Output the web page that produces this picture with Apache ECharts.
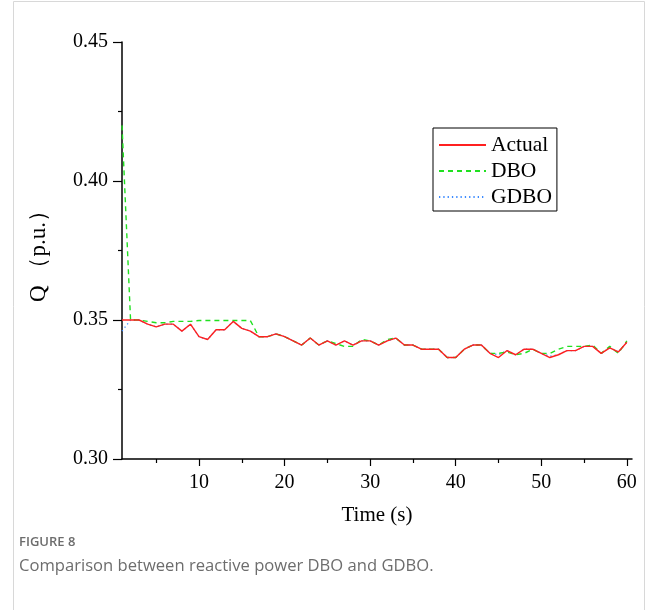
<!DOCTYPE html>
<html><head><meta charset="utf-8">
<script src="https://cdn.jsdelivr.net/npm/echarts@6/dist/echarts.min.js"></script>
<style>html,body{margin:0;padding:0;background:#fff}#c{width:658px;height:610px}</style>
</head><body><div id="c"></div>
<script>
const time = [1,2,3,4,5,6,7,8,9,10,11,12,13,14,15,16,17,18,19,20,21,22,23,24,25,26,27,28,29,30,31,32,33,34,35,36,37,38,39,40,41,42,43,44,45,46,47,48,49,50,51,52,53,54,55,56,57,58,59,60];
const actual = [0.350,0.350,0.350,0.3485,0.3475,0.3485,0.3485,0.346,0.3485,0.344,0.343,0.3465,0.3465,0.3495,0.347,0.346,0.344,0.344,0.345,0.344,0.3425,0.341,0.3435,0.341,0.3425,0.341,0.3425,0.341,0.3425,0.3425,0.341,0.3425,0.3435,0.341,0.341,0.3395,0.3395,0.3395,0.3365,0.3365,0.3395,0.341,0.341,0.338,0.3365,0.339,0.3375,0.3395,0.3395,0.338,0.3365,0.3375,0.339,0.339,0.3405,0.3405,0.338,0.340,0.3385,0.342];
const dbo = [0.420,0.350,0.350,0.3495,0.349,0.349,0.3495,0.3495,0.3495,0.3498,0.3498,0.3498,0.3498,0.3498,0.3498,0.3498,0.344,0.344,0.345,0.344,0.3425,0.341,0.3435,0.341,0.3425,0.3415,0.3405,0.3405,0.343,0.3425,0.341,0.343,0.3435,0.341,0.341,0.3395,0.3395,0.3395,0.3365,0.3365,0.3395,0.341,0.341,0.338,0.338,0.3385,0.3375,0.338,0.3395,0.338,0.338,0.3395,0.3405,0.3405,0.3405,0.341,0.338,0.3405,0.338,0.3425];
const gdbo = [0.346,0.350,0.350,0.3485,0.3475,0.3485,0.3485,0.346,0.3485,0.344,0.343,0.3465,0.3465,0.3495,0.347,0.346,0.344,0.344,0.345,0.344,0.3425,0.341,0.3435,0.341,0.3425,0.341,0.3425,0.341,0.3425,0.3425,0.341,0.3425,0.3435,0.341,0.341,0.3395,0.3395,0.3395,0.3365,0.3365,0.3395,0.341,0.341,0.338,0.3375,0.339,0.3375,0.3395,0.3395,0.338,0.337,0.3375,0.339,0.339,0.3405,0.3405,0.338,0.340,0.3385,0.342];
const xMajor = [10,20,30,40,50,60];
const xMinor = [5,15,25,35,45,55];
const seriesNames = ['Actual','DBO','GDBO'];

const pair = (ys) => time.map((t,i)=>[t, ys[i]]);
const serif = 'Liberation Serif, Times New Roman, serif';
const chart = echarts.init(document.getElementById('c'), null, {renderer:'canvas'});
const axisLineStyle = {color:'#000', width:1.5};
chart.setOption({
  animation:false,
  backgroundColor:'#fff',
  grid:{left:122, right:26, top:42, bottom:151, containLabel:false},
  xAxis:[{
    type:'value', min:1, max:60.6,
    axisLine:{show:true, onZero:false, lineStyle:axisLineStyle},
    axisTick:{show:true, customValues:xMajor, length:7, lineStyle:{color:'#000', width:1.2}},
    axisLabel:{customValues:xMajor, color:'#000', fontFamily:serif, fontSize:20, margin:14},
    splitLine:{show:false},
    name:'Time (s)', nameLocation:'middle', nameGap:46,
    nameTextStyle:{color:'#000', fontFamily:serif, fontSize:21}
  },{
    type:'value', min:1, max:60.6, position:'bottom',
    axisLine:{show:false},
    axisTick:{show:true, customValues:xMinor, length:4, lineStyle:{color:'#000', width:1.2}},
    axisLabel:{show:false}, splitLine:{show:false}
  }],
  yAxis:{
    type:'value', min:0.30, max:0.45, interval:0.05,
    axisLine:{show:true, onZero:false, lineStyle:axisLineStyle},
    axisTick:{show:true, length:9, lineStyle:{color:'#000', width:1.2}},
    minorTick:{show:true, splitNumber:2, length:4, lineStyle:{color:'#000', width:1.2}},
    axisLabel:{color:'#000', fontFamily:serif, fontSize:20, margin:14, formatter:v=>v.toFixed(2)},
    splitLine:{show:false},
    name:'Q （p.u.）', nameLocation:'middle', nameGap:72, nameRotate:90,
    nameTextStyle:{color:'#000', fontFamily:serif, fontSize:23}
  },
  legend:{
    show:true, data:seriesNames, orient:'vertical', left:433, top:128,
    itemWidth:47, itemHeight:14, itemGap:4, padding:[6,5,3,5],
    borderColor:'#000', borderWidth:1, backgroundColor:'#fff',
    itemStyle:{opacity:0},
    textStyle:{color:'#000', fontFamily:serif, fontSize:21.5}
  },
  series:[
    {name:'Actual', type:'line', data:pair(actual), showSymbol:false, symbol:'none', z:5,
     lineStyle:{color:'#ff2020', width:1.4, type:'solid'}, itemStyle:{color:'#ff2020'}},
    {name:'DBO', type:'line', data:pair(dbo), showSymbol:false, symbol:'none', z:4,
     lineStyle:{color:'#20e020', width:1.4, type:[5,4]}, itemStyle:{color:'#20e020'}},
    {name:'GDBO', type:'line', data:pair(gdbo), showSymbol:false, symbol:'none', z:3,
     lineStyle:{color:'#3d8bff', width:1.3, type:[1.3,3]}, itemStyle:{color:'#3d8bff'}}
  ],
  graphic:[
    {type:'rect', shape:{x:13.5, y:1.5, width:631, height:640}, style:{fill:null, stroke:'#d8d8d8', lineWidth:1}, silent:true, z:-1},
    {type:'text', left:19, top:536, style:{text:'FIGURE 8', fill:'#6d6d6d', font:'600 13px "Open Sans", "Noto Sans", sans-serif'}},
    {type:'text', left:19, top:558, style:{text:'Comparison between reactive power DBO and GDBO.', fill:'#6d6d6d', font:'16.6px "Open Sans", "Noto Sans", sans-serif'}}
  ]
});
</script></body></html>
